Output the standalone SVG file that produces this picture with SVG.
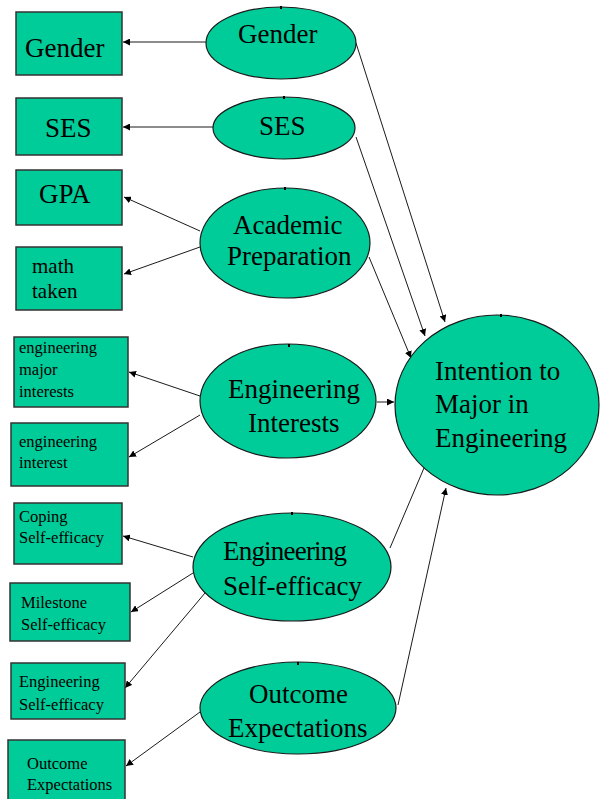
<svg xmlns="http://www.w3.org/2000/svg" width="600" height="799" viewBox="0 0 600 799">
  <style>
    .box { fill: #00CC99; stroke: #333333; stroke-width: 1.5; }
    .oval { fill: #00CC99; stroke: #1a1a1a; stroke-width: 1.2; }
    .tick { fill: #000000; }
    text { font-family: "Liberation Serif", "Times New Roman", serif; fill: #000000; }
    .big { font-size: 27px; }
    .mid { font-size: 21px; }
    .small { font-size: 16.5px; }
    .edge { fill: none; stroke: #1a1a1a; stroke-width: 1; }
  </style>
  <defs>
    <marker id="arrow" viewBox="0 0 10 10" refX="10" refY="5" markerWidth="7" markerHeight="7" orient="auto" markerUnits="userSpaceOnUse">
      <path d="M0,0 L10,5 L0,10 z" fill="#000000"/>
    </marker>
  </defs>

  <rect width="600" height="799" fill="#ffffff"/>

  <!-- connectors -->
  <g id="connectors">
    <line class="edge" x1="206" y1="42" x2="123" y2="42" marker-end="url(#arrow)"/>
    <line class="edge" x1="213" y1="127" x2="123" y2="127" marker-end="url(#arrow)"/>
    <line class="edge" x1="200" y1="231" x2="124" y2="197" marker-end="url(#arrow)"/>
    <line class="edge" x1="200" y1="247" x2="124" y2="274" marker-end="url(#arrow)"/>
    <line class="edge" x1="200" y1="396" x2="129" y2="372" marker-end="url(#arrow)"/>
    <line class="edge" x1="200" y1="415" x2="129" y2="457" marker-end="url(#arrow)"/>
    <line class="edge" x1="193" y1="557" x2="123" y2="536" marker-end="url(#arrow)"/>
    <line class="edge" x1="193" y1="573" x2="131" y2="612" marker-end="url(#arrow)"/>
    <line class="edge" x1="205" y1="593" x2="125" y2="688" marker-end="url(#arrow)"/>
    <line class="edge" x1="200" y1="712" x2="126" y2="766" marker-end="url(#arrow)"/>
    <line class="edge" x1="377" y1="402" x2="394" y2="402" marker-end="url(#arrow)"/>
    <line class="edge" x1="356" y1="43" x2="445" y2="322" marker-end="url(#arrow)"/>
    <line class="edge" x1="356" y1="137" x2="425" y2="336" marker-end="url(#arrow)"/>
    <line class="edge" x1="369" y1="257" x2="411" y2="358" marker-end="url(#arrow)"/>
    <line class="edge" x1="390" y1="548" x2="424" y2="468"/>
    <line class="edge" x1="398" y1="705" x2="446" y2="488" marker-end="url(#arrow)"/>
  </g>

  <!-- observed indicators -->
  <g id="box-gender">
    <rect class="box" x="16" y="12" width="106" height="63"/>
    <text class="big" x="25" y="57">Gender</text>
  </g>
  <g id="box-ses">
    <rect class="box" x="16" y="98" width="106" height="57"/>
    <text class="big" x="45" y="137">SES</text>
  </g>
  <g id="box-gpa">
    <rect class="box" x="16" y="170" width="106" height="55"/>
    <text class="big" x="39" y="203">GPA</text>
  </g>
  <g id="box-math">
    <rect class="box" x="16" y="247" width="106" height="63"/>
    <text class="mid" x="32" y="273">math</text>
    <text class="mid" x="32" y="298">taken</text>
  </g>
  <g id="box-major-interests">
    <rect class="box" x="14" y="337" width="114" height="70"/>
    <text class="small" x="19" y="353">engineering</text>
    <text class="small" x="19" y="375">major</text>
    <text class="small" x="19" y="397">interests</text>
  </g>
  <g id="box-interest">
    <rect class="box" x="11" y="423" width="117" height="63"/>
    <text class="small" x="19" y="447">engineering</text>
    <text class="small" x="19" y="468">interest</text>
  </g>
  <g id="box-coping">
    <rect class="box" x="14" y="503" width="108" height="61"/>
    <text class="small" x="19" y="522">Coping</text>
    <text class="small" x="19" y="543">Self-efficacy</text>
  </g>
  <g id="box-milestone">
    <rect class="box" x="10" y="583" width="120" height="58"/>
    <text class="small" x="21" y="608">Milestone</text>
    <text class="small" x="21" y="630">Self-efficacy</text>
  </g>
  <g id="box-eng-se">
    <rect class="box" x="11" y="663" width="114" height="56"/>
    <text class="small" x="19" y="687">Engineering</text>
    <text class="small" x="19" y="710">Self-efficacy</text>
  </g>
  <g id="box-outcome">
    <rect class="box" x="8" y="740" width="117" height="62"/>
    <text class="small" x="27" y="769">Outcome</text>
    <text class="small" x="27" y="790">Expectations</text>
  </g>

  <!-- latent constructs -->
  <g id="oval-gender">
    <ellipse class="oval" cx="281" cy="43" rx="75" ry="36"/>
    <rect class="tick" x="280" y="6" width="2" height="3"/>
    <text class="big" x="238" y="43">Gender</text>
  </g>
  <g id="oval-ses">
    <ellipse class="oval" cx="284" cy="128" rx="71" ry="31"/>
    <rect class="tick" x="283" y="96" width="2" height="3"/>
    <text class="big" x="259" y="135">SES</text>
  </g>
  <g id="oval-academic">
    <ellipse class="oval" cx="285" cy="243" rx="85" ry="55"/>
    <rect class="tick" x="284" y="187" width="2" height="3"/>
    <text class="big" x="233" y="234">Academic</text>
    <text class="big" x="227" y="265">Preparation</text>
  </g>
  <g id="oval-interests">
    <ellipse class="oval" cx="288" cy="401" rx="88" ry="57"/>
    <rect class="tick" x="288" y="344" width="2" height="3"/>
    <text class="big" x="228" y="398">Engineering</text>
    <text class="big" x="248" y="432">Interests</text>
  </g>
  <g id="oval-self-efficacy">
    <ellipse class="oval" cx="292" cy="567" rx="99" ry="54"/>
    <rect class="tick" x="291" y="512" width="2" height="3"/>
    <text class="big" x="223" y="560" textLength="124">Engineering</text>
    <text class="big" x="223" y="595">Self-efficacy</text>
  </g>
  <g id="oval-outcome">
    <ellipse class="oval" cx="298" cy="708" rx="98" ry="46"/>
    <rect class="tick" x="297" y="662" width="2" height="3"/>
    <text class="big" x="249" y="703">Outcome</text>
    <text class="big" x="228" y="737">Expectations</text>
  </g>
  <g id="oval-intention">
    <ellipse class="oval" cx="497" cy="405" rx="102" ry="90"/>
    <rect class="tick" x="500" y="314" width="2" height="3"/>
    <text class="big" x="435" y="380">Intention to</text>
    <text class="big" x="435" y="413">Major in</text>
    <text class="big" x="435" y="447">Engineering</text>
  </g>
</svg>
